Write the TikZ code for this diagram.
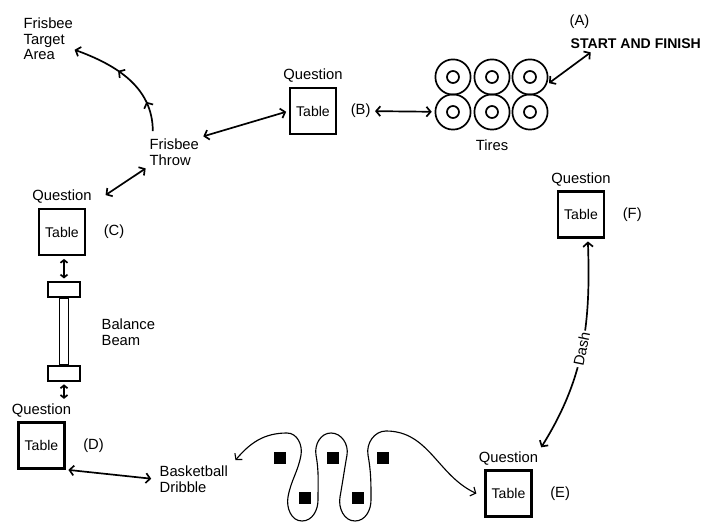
\documentclass[tikz,border=0pt]{standalone}
\usepackage{fontspec}
\setmainfont{Liberation Sans}
\usetikzlibrary{arrows.meta,positioning,decorations.markings}

\begin{document}
\begin{tikzpicture}[x=0.025cm, y=0.025cm,
        every node/.style={font=\fontsize{10.5}{11}\selectfont, inner sep=1pt},
        >={Straight Barb[length=3pt,width=7pt]},
        link/.style={<->, very thick, shorten <=2pt, shorten >=2pt},
        shortlink/.style={{Straight Barb[length=2pt,width=5pt]}-{Straight Barb[length=2pt,width=5pt]}, very thick, shorten <=2pt, shorten >=2pt},
        qtable/.style={draw, line width=1.6pt, minimum size=1.15cm, inner sep=0pt, font=\fontsize{10}{11}\selectfont},
        beamend/.style={draw, line width=1pt, minimum width=0.8cm, minimum height=0.375cm, inner sep=0pt},
        tire/.style={draw, circle, line width=1.2pt, minimum size=0.88cm, inner sep=0pt},
        cone/.style={fill, minimum size=0.3cm, inner sep=0pt}]
        \useasboundingbox (0,0) rectangle (704,-523);

        \node[anchor=west] (labA) at (568,-22) {(A)};
        \node[anchor=west, font=\fontsize{10}{11}\selectfont\bfseries] (start) at (569,-44) {START AND FINISH};

        \foreach \n/\x/\y in {1/453/77, 2/492/77, 3/530/77, 4/453/112, 5/492/112, 6/530/112} {
            \node[tire] (tire\n) at (\x,-\y) {};
            \draw[line width=1.2pt] (tire\n.center) circle (0.15cm);
            }
        \node[below=0.2cm of tire5] (tires) {Tires};

        \node[qtable] (tabB) at (313,-111) {Table};
        \node[above=2pt of tabB] (qB) {Question};
        \node[right=0.3cm of tabB] (labB) {(B)};

        \node[qtable] (tabC) at (62,-232) {Table};
        \node[above=2pt of tabC] (qC) {Question};
        \node[right=0.4cm of tabC] (labC) {(C)};

        \node[qtable] (tabD) at (41.5,-445.5) {Table};
        \node[above=2pt of tabD] (qD) {Question};
        \node[right=0.4cm of tabD] (labD) {(D)};

        \node[qtable] (tabE) at (508.5,-493.5) {Table};
        \node[above=2pt of tabE] (qE) {Question};
        \node[right=0.4cm of tabE] (labE) {(E)};

        \node[qtable] (tabF) at (581,-214.5) {Table};
        \node[above=2pt of tabF] (qF) {Question};
        \node[right=0.4cm of tabF] (labF) {(F)};

        \node[anchor=west, align=left] (target) at (22,-39) {Frisbee\\Target\\Area};
        \node[anchor=west, align=left] (throw) at (148,-152) {Frisbee\\Throw};
        \node[anchor=west, align=left] (balance) at (100,-332) {Balance\\Beam};
        \node[anchor=west, align=left] (dribble) at (158,-479) {Basketball\\Dribble};

        \node[beamend] (beamT) at (64,-289.5) {};
        \node[draw, line width=1pt, minimum width=0.225cm, minimum height=1.65cm, inner sep=0pt, below=0pt of beamT] (beam) {};
        \node[beamend, below=0pt of beam] (beamB) {};

        \foreach \n/\x/\y in {1/280/458, 2/333/458, 3/383/458, 4/305/498, 5/358/498} {
            \node[cone] (cone\n) at (\x,-\y) {};
            }

        \draw[very thick, ->, decoration={markings, mark=at position 0.25 with {\arrow{>}}, mark=at position 0.6 with {\arrow{>}}}, postaction={decorate}] ([shift={(0.12cm,0.15cm)}]throw.north west) to[out=90, in=-20] ([yshift=-0.27cm]target.east);
        \draw[link] (throw.north east) -- (tabB.west);
        \draw[link] (throw.south west) -- ([xshift=0.25cm]qC.east);
        \draw[link] (labB) -- (tire4);
        \draw[link] (tire3.-25) -- ([xshift=0.6cm]start.south west);
        \draw[shortlink] (beamT.north) -- (beamT.north |- tabC.south);
        \draw[shortlink] (beamB.south) -- (beamB.south |- qD.north);
        \draw[link] (tabD.south east) -- ([xshift=-0.1cm]dribble.west);
        \draw[<->, thick] ([shift={(0.15cm,0.1cm)}]dribble.north east) to[out=50, in=180] (287,-433)
            to[out=0, in=80] (301,-455) to[out=-100, in=80] (288,-497) to[out=-100, in=180] (302,-521)
            to[out=0, in=-90] (318,-500) to[out=90, in=-80] (316,-455) to[out=100, in=180] (331,-433)
            to[out=0, in=80] (347,-455) to[out=-100, in=80] (340,-497) to[out=-100, in=180] (355,-521)
            to[out=0, in=-90] (371,-500) to[out=90, in=-80] (368,-455) to[out=100, in=180] (386,-431)
            to[out=0, in=155] ([xshift=-0.2cm]tabE.west);
        \draw[link] ([xshift=0.17cm]tabF.south) to[out=-88, in=58] node[sloped, fill=white] {Dash} (qE.north east);
    \end{tikzpicture}
\end{document}
